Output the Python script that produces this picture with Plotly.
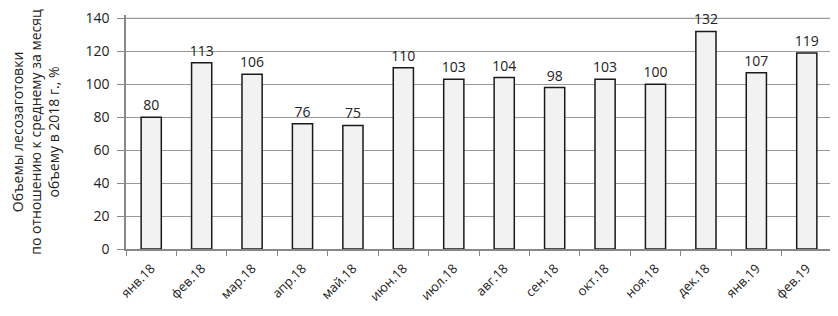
import plotly.graph_objects as go

months = ["янв.18", "фев.18", "мар.18", "апр.18", "май.18", "июн.18", "июл.18",
          "авг.18", "сен.18", "окт.18", "ноя.18", "дек.18", "янв.19", "фев.19"]
values = [80, 113, 106, 76, 75, 110, 103, 104, 98, 103, 100, 132, 107, 119]
y_ticks = [0, 20, 40, 60, 80, 100, 120, 140]

font_family = "Open Sans, Liberation Sans, sans-serif"

fig = go.Figure(go.Bar(
    x=months, y=values,
    marker=dict(color="#f2f2f2", line=dict(color="#1a1a1a", width=1.5)),
    text=[str(v) for v in values], textposition="outside",
    textfont=dict(size=14, color="#222", family=font_family),
    constraintext="none",
    cliponaxis=False,
))

# make sure the top gridline (last tick) is drawn
fig.add_hline(y=y_ticks[-1], line=dict(color="#999", width=1.2), layer="below")

fig.update_layout(
    width=830, height=308,
    margin=dict(l=118, r=6, t=7, b=67),
    plot_bgcolor="white", paper_bgcolor="white",
    bargap=0.6,
    showlegend=False,
    font=dict(family=font_family, color="#222"),
)
fig.update_xaxes(
    type="category", tickangle=-45, tickfont=dict(size=13),
    showline=True, linecolor="#888", linewidth=1.5,
    ticks="outside", tickson="boundaries", ticklen=5, tickcolor="#888",
    ticklabelstandoff=5, ticklabeloverflow="allow",
    showgrid=False, automargin=False,
)
fig.update_yaxes(
    range=[0, 142], tickvals=y_ticks, tickfont=dict(size=14),
    showline=True, linecolor="#888", linewidth=1.5,
    ticks="outside", ticklen=7, tickcolor="#888",
    ticklabelstandoff=5, ticklabeloverflow="allow",
    showgrid=True, gridcolor="#999", gridwidth=1.2,
    zeroline=False, automargin=False,
    title=dict(text="Объемы лесозаготовки<br>по отношению к среднему за месяц<br>объему в 2018 г., %",
               font=dict(size=14), standoff=27),
)
fig.write_html("out.html")
